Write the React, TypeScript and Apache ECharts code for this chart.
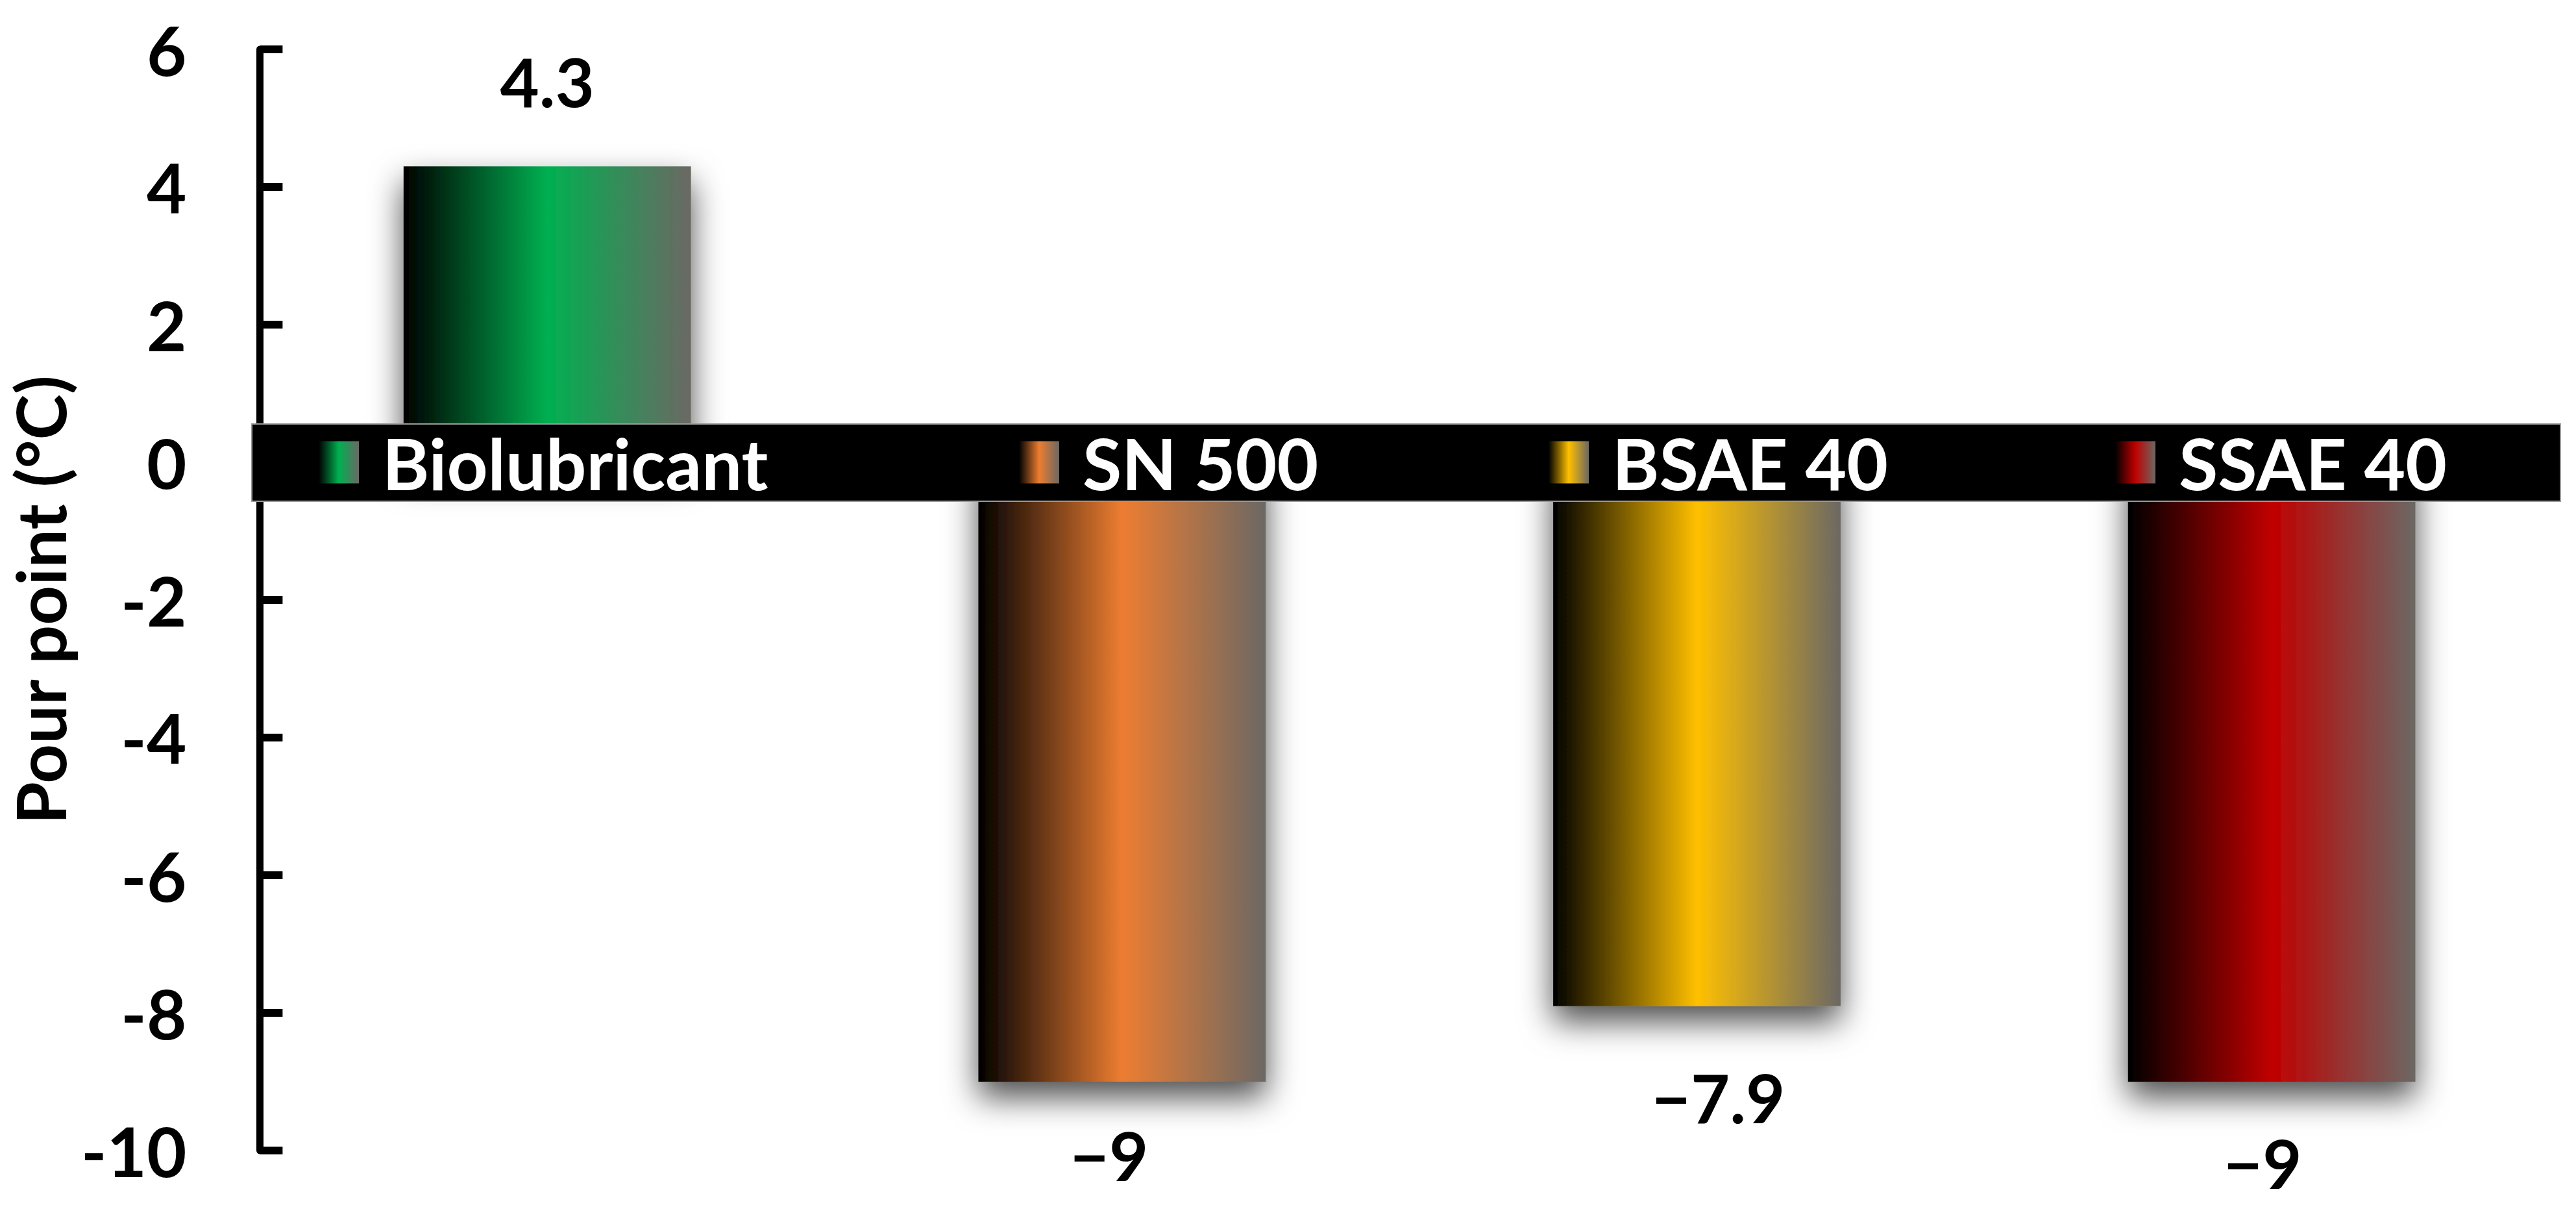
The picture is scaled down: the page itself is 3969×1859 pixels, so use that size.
import React, { useEffect, useRef } from "react";
import * as echarts from "echarts";

// ---- data ----
const categories: string[] = ["Biolubricant", "SN 500", "BSAE 40", "SSAE 40"];
const pourPoints: number[] = [4.3, -9, -7.9, -9];
const valueLabels: string[] = ["4.3", "\u22129", "\u22127.9", "\u22129"];
const baseColors: string[] = ["#00B050", "#ED7D31", "#FFC000", "#C00000"];
const yMin = -10;
const yMax = 6;
const yInterval = 2;
const yTitle = "Pour point (°C)";

// ---- styling (positions / tweaks) ----
const labelDistance: number[] = [80, 60, 88, 72];
const labelShiftX: number[] = [0, -20, 33, -14];
const legendLeft: number[] = [491, 1570, 2386, 3259];

const FONT = "Lato, 'Open Sans', 'Noto Sans', sans-serif";

export default function App() {
  const ref = useRef<HTMLDivElement>(null);

  useEffect(() => {
    if (!ref.current) return;
    const chart = echarts.init(ref.current, null, { renderer: "svg" });

    const grad = (c: string) =>
      new echarts.graphic.LinearGradient(0, 0, 1, 0, [
        { offset: 0, color: "#000000" },
        { offset: 0.5, color: c },
        { offset: 1, color: "#6B6864" },
      ]);

    const series = categories.map((name, i) => ({
      name,
      type: "bar",
      barWidth: "50%",
      barGap: "-100%",
      z: 2,
      itemStyle: {
        color: grad(baseColors[i]),
        shadowBlur: 50,
        shadowOffsetY: 24,
        shadowColor: "rgba(0,0,0,0.7)",
      },
      label: {
        show: true,
        fontFamily: FONT,
        fontWeight: "bold",
        fontSize: 104,
        color: "#000",
        formatter: () => valueLabels[i],
      },
      data: categories.map((_, j) =>
        j === i
          ? {
              value: pourPoints[i],
              label: {
                position: pourPoints[i] >= 0 ? "top" : "bottom",
                distance: labelDistance[i],
                offset: [labelShiftX[i], 0],
              },
            }
          : "-"
      ),
    }));

    const legends = categories.map((name, i) => ({
      data: [name],
      left: legendLeft[i],
      top: 657,
      padding: 0,
      z: 5,
      icon: "rect",
      itemWidth: 62,
      itemHeight: 65,
      selectedMode: false,
      textStyle: {
        color: "#fff",
        fontFamily: FONT,
        fontWeight: "bold",
        fontSize: 110,
        padding: [0, 0, 0, 31],
      },
      itemStyle: {
        shadowBlur: 0,
        shadowOffsetY: 0,
        shadowColor: "transparent",
      },
    }));

    chart.setOption({
      animation: false,
      backgroundColor: "#ffffff",
      grid: { left: 383, right: 26, top: 76, bottom: 87, containLabel: false },
      xAxis: {
        type: "category",
        data: categories,
        axisLine: { show: false },
        axisTick: { show: false },
        axisLabel: { show: false },
        splitLine: { show: false },
      },
      yAxis: {
        type: "value",
        min: yMin,
        max: yMax,
        interval: yInterval,
        name: yTitle,
        nameLocation: "middle",
        nameGap: 288,
        nameTextStyle: {
          fontFamily: FONT,
          fontWeight: "bold",
          fontSize: 106,
          color: "#000",
          verticalAlign: "middle",
        },
        axisLine: { show: true, lineStyle: { color: "#000", width: 11 } },
        axisTick: {
          show: true,
          inside: true,
          length: 35,
          lineStyle: { color: "#000", width: 12 },
        },
        axisLabel: {
          margin: 113,
          fontFamily: FONT,
          fontWeight: "bold",
          fontSize: 106,
          color: "#000",
        },
        splitLine: { show: false },
      },
      legend: legends,
      graphic: [
        {
          type: "rect",
          z: 3,
          shape: { x: 388, y: 653, width: 3557, height: 119 },
          style: { fill: "#000", stroke: "#9a9a9a", lineWidth: 2 },
        },
      ],
      series,
    });

    return () => {
      chart.dispose();
    };
  }, []);

  return (
    <div
      ref={ref}
      style={{ position: "absolute", left: 0, top: 0, width: 3969, height: 1859 }}
    />
  );
}
